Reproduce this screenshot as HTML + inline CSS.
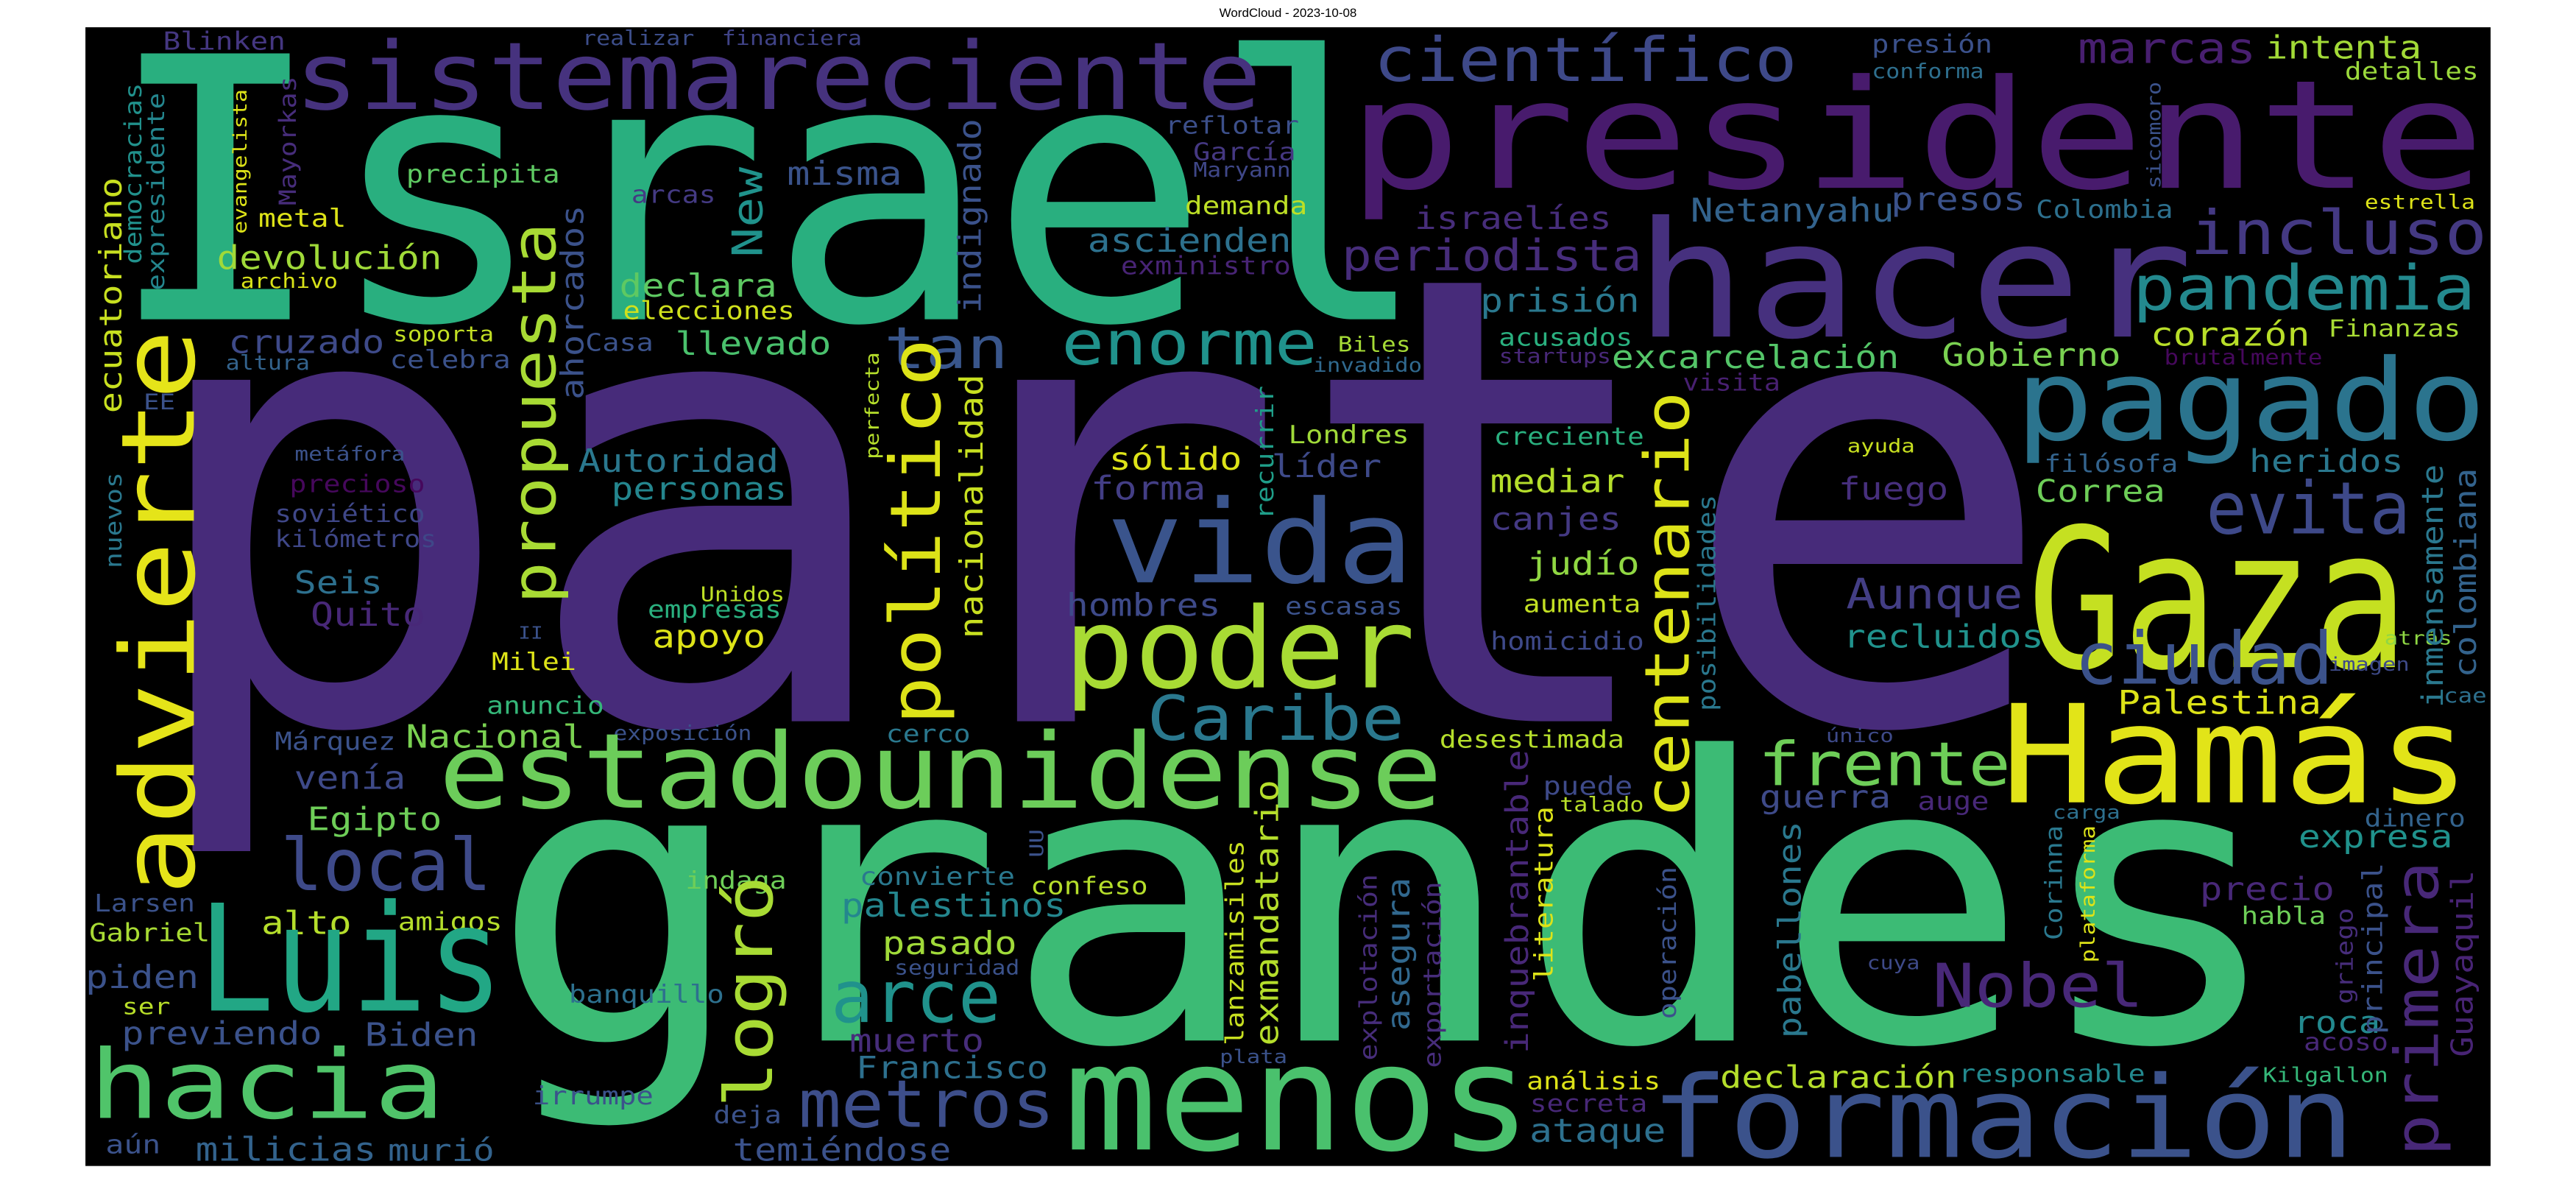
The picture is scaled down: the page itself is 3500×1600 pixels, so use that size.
<!DOCTYPE html>
<html><head><meta charset="utf-8"><title>WordCloud - 2023-10-08</title>
<style>
html,body{margin:0;padding:0;background:#fff;width:3500px;height:1600px;overflow:hidden}
#title{position:absolute;left:0;top:8px;width:3500px;text-align:center;font:17px "Liberation Sans",sans-serif;color:#000}
svg{position:absolute;left:0;top:0}
</style></head>
<body>
<div id="title">WordCloud - 2023-10-08</div>
<svg id="cloud" width="3500" height="1600" viewBox="0 0 1568 1568" preserveAspectRatio="none" xmlns="http://www.w3.org/2000/svg">
<rect x="52" y="36.3" width="1464" height="1515.7" fill="#000"/>
<g id="words"></g>
</svg>
<script>
// horizontal words: [word, left, baseline, right, fontSize(0=auto), color]
const hWords = [
["parte",100,960,1235,380,"#472b7a"],
["grandes",310,1385,1380,240,"#3cbb75"],
["Israel",75,425,860,222,"#29af7f"],
["presidente",825,250,1508,92,"#481b6d"],
["hacer",1000,448,1330,98,"#46307e"],
["sistemareciente",182,145,765,0,"#46327e"],
["Blinken",100,66,173,0,"#453781"],
["realizar",355,60,422,0,"#3d4e8a"],
["financiera",440,60,524,0,"#404387"],
["científico",838,108,1092,0,"#3e4989"],
["presión",1140,70,1212,0,"#3b518b"],
["conforma",1140,104,1207,0,"#2e6f8e"],
["marcas",1266,84,1372,0,"#481f70"],
["intenta",1380,78,1473,0,"#a2da37"],
["detalles",1428,106,1508,0,"#9bd93c"],
["precipita",248,243,340,0,"#5ec962"],
["arcas",385,270,435,0,"#443a83"],
["misma",480,246,548,0,"#3a538b"],
["reflotar",710,178,790,0,"#3c4f8a"],
["García",727,213,788,0,"#453882"],
["Maryann",727,235,785,0,"#3f4788"],
["demanda",722,285,795,0,"#bddf26"],
["Netanyahu",1030,295,1152,0,"#33638d"],
["presos",1152,280,1232,0,"#3b528b"],
["Colombia",1240,290,1322,0,"#2d708e"],
["estrella",1440,278,1506,0,"#dde318"],
["israelíes",862,305,980,0,"#472d7b"],
["incluso",1335,338,1512,0,"#443983"],
["metal",158,302,210,0,"#dde318"],
["devolución",133,358,268,0,"#a0da39"],
["archivo",147,383,205,0,"#d8e219"],
["ascienden",663,335,785,0,"#2d718e"],
["exministro",683,365,785,0,"#482475"],
["periodista",818,360,998,0,"#472d7b"],
["pandemia",1300,412,1505,0,"#23898e"],
["declara",378,395,472,0,"#5ec962"],
["elecciones",380,425,483,0,"#d0e11c"],
["prisión",902,415,997,0,"#2a788e"],
["Casa",357,467,397,0,"#3b528b"],
["llevado",412,472,505,0,"#4ac16d"],
["cruzado",140,470,233,0,"#3e4a89"],
["soporta",240,454,300,0,"#c2df23"],
["celebra",238,490,310,0,"#3b528b"],
["altura",138,492,188,0,"#33638d"],
["tan",540,490,612,0,"#39568c"],
["enorme",648,485,800,0,"#20928c"],
["Biles",815,468,858,0,"#a5db36"],
["invadido",800,495,865,0,"#30698e"],
["acusados",913,460,993,0,"#2ab07f"],
["startups",913,483,980,0,"#482878"],
["excarcelación",982,490,1155,0,"#54c568"],
["Gobierno",1183,487,1290,0,"#7ad151"],
["corazón",1310,460,1405,0,"#b8de29"],
["Finanzas",1418,448,1497,0,"#a8db34"],
["brutalmente",1318,485,1413,0,"#46085c"],
["visita",1025,520,1083,0,"#482071"],
["pagado",1230,585,1510,0,"#2b748e"],
["EE",88,545,106,0,"#3b528b"],
["Londres",785,590,857,0,"#a0da39"],
["creciente",910,592,1000,0,"#2ab07f"],
["ayuda",1125,602,1165,0,"#c8e020"],
["filósofa",1245,628,1325,0,"#33638d"],
["heridos",1370,628,1462,0,"#2a788e"],
["metáfora",180,613,246,0,"#3b528b"],
["Autoridad",353,628,473,0,"#2a788e"],
["sólido",676,625,755,0,"#dde318"],
["líder",775,635,840,0,"#3e4a89"],
["precioso",177,655,258,0,"#46085c"],
["personas",373,665,478,0,"#24868e"],
["forma",665,665,733,0,"#433e85"],
["mediar",908,655,988,0,"#b5de2b"],
["fuego",1120,665,1185,0,"#472f7d"],
["Correa",1240,668,1317,0,"#6ece58"],
["soviético",168,695,258,0,"#3f4788"],
["canjes",908,705,986,0,"#443983"],
["evita",1345,710,1465,44,"#3e4989"],
["kilómetros",168,728,265,0,"#3f4788"],
["vida",677,775,857,70,"#3a548c"],
["judío",930,765,997,0,"#90d743"],
["Gaza",1240,888,1460,118,"#c5e021"],
["Seis",180,790,232,0,"#2d708e"],
["Aunque",1125,810,1230,0,"#433e85"],
["Unidos",427,800,477,0,"#bddf26"],
["empresas",395,822,475,0,"#2ab07f"],
["hombres",650,820,742,0,"#3e4a89"],
["escasas",783,818,853,0,"#3b528b"],
["aumenta",928,815,998,0,"#c2df23"],
["Quito",190,833,258,0,"#482878"],
["II",316,850,330,0,"#3b528b"],
["apoyo",398,862,465,0,"#dde318"],
["recluidos",1123,862,1243,0,"#20928c"],
["homicidio",908,865,1000,0,"#3e4989"],
["poder",651,915,858,68,"#a8db34"],
["ciudad",1265,910,1418,44,"#3b528b"],
["Milei",300,892,350,0,"#dde318"],
["atrás",1452,858,1492,0,"#8fd744"],
["imagen",1418,893,1466,0,"#3e4a89"],
["Caribe",700,985,853,0,"#2a788e"],
["anuncio",297,950,367,0,"#35b779"],
["cae",1488,935,1513,0,"#2d708e"],
["Palestina",1290,950,1412,0,"#dde318"],
["Márquez",168,998,240,0,"#3b528b"],
["Nacional",248,995,355,0,"#7ad151"],
["exposición",374,985,457,0,"#3b528b"],
["cerco",540,988,590,0,"#2a788e"],
["único",1112,988,1152,0,"#3e4a89"],
["desestimada",877,995,988,0,"#b5de2b"],
["estadounidense",270,1075,875,0,"#6ccd5a"],
["frente",1072,1045,1222,0,"#6ece58"],
["Hamás",1222,1068,1500,83,"#e2e418"],
["venía",180,1050,246,0,"#3e4a89"],
["puede",940,1058,993,0,"#3e4a89"],
["talado",950,1080,1000,0,"#b8de29"],
["guerra",1072,1075,1150,0,"#3e4a89"],
["auge",1168,1078,1210,0,"#482878"],
["Egipto",188,1105,268,0,"#6ece58"],
["carga",1250,1090,1290,0,"#2d708e"],
["dinero",1440,1100,1500,0,"#33638d"],
["expresa",1400,1128,1492,0,"#20928c"],
["local",173,1185,297,44,"#3e4a89"],
["indaga",418,1183,478,0,"#6ece58"],
["convierte",524,1178,617,0,"#2a788e"],
["confeso",628,1190,698,0,"#b5de2b"],
["palestinos",513,1220,648,0,"#24868e"],
["Larsen",58,1213,118,0,"#3b528b"],
["precio",1340,1198,1420,0,"#482878"],
["Gabriel",55,1253,127,0,"#a8db34"],
["alto",160,1243,213,0,"#b5de2b"],
["amigos",243,1238,305,0,"#b5de2b"],
["habla",1365,1230,1415,0,"#6ece58"],
["pasado",538,1270,618,0,"#a0da39"],
["seguridad",545,1297,620,0,"#3b528b"],
["cuya",1137,1290,1168,0,"#3e4a89"],
["Luis",125,1345,302,90,"#22a785"],
["piden",53,1315,120,0,"#3b528b"],
["arce",508,1360,607,44,"#20928c"],
["Nobel",1178,1340,1303,0,"#482878"],
["banquillo",347,1335,440,0,"#2d708e"],
["ser",75,1350,103,0,"#b8de29"],
["roca",1397,1375,1448,0,"#23898e"],
["previendo",75,1390,195,0,"#3b528b"],
["Biden",223,1392,290,0,"#3b528b"],
["muerto",518,1400,598,0,"#472d7b"],
["acoso",1403,1398,1453,0,"#482878"],
["plata",743,1415,783,0,"#3b528b"],
["Francisco",522,1435,637,0,"#2d708e"],
["hacia",57,1488,268,58,"#50c46a"],
["análisis",930,1450,1010,0,"#dde318"],
["declaración",1048,1448,1190,0,"#b5de2b"],
["responsable",1193,1440,1305,0,"#23898e"],
["Kilgallon",1378,1440,1453,0,"#35b779"],
["irrumpe",325,1470,397,0,"#3b528b"],
["deja",435,1495,475,0,"#3b528b"],
["metros",488,1500,640,40,"#3d4e8a"],
["menos",652,1530,928,90,"#4ac16d"],
["formación",1008,1540,1430,0,"#3b528b"],
["secreta",932,1480,1002,0,"#482878"],
["ataque",932,1520,1013,0,"#2d708e"],
["aún",65,1535,97,0,"#3b528b"],
["milicias",120,1545,228,0,"#33638d"],
["murió",237,1545,300,0,"#33638d"],
["temiéndose",447,1545,578,0,"#3b528b"]
];
// vertical words (read bottom-to-top): [word, baselineX, bottomY, topY, fontSize(0=auto), color]
const vWords = [
["advierte",118,1185,445,0,"#e5e419"],
["ecuatoriano",74,548,238,0,"#c8e020"],
["democracias",86,350,112,0,"#21918c"],
["expresidente",100,385,125,0,"#24868e"],
["evangelista",150,310,120,0,"#dde318"],
["Mayorkas",180,272,103,0,"#472d7b"],
["nuevos",74,755,630,0,"#2a788e"],
["propuesta",338,800,300,0,"#a8db34"],
["ahorcados",355,530,275,0,"#3b528b"],
["New",464,340,225,0,"#20928c"],
["indignado",597,415,160,0,"#3b528b"],
["político",572,960,455,0,"#dde318"],
["perfecta",535,610,470,0,"#b5de2b"],
["nacionalidad",598,848,500,0,"#c8e020"],
["recurrir",775,690,515,0,"#1f9e89"],
["centenario",1028,1085,525,0,"#dde318"],
["posibilidades",1044,945,660,0,"#2a788e"],
["UU",635,1140,1105,0,"#3b528b"],
["lanzamisiles",757,1390,1120,0,"#c8e020"],
["exmandatario",778,1390,1040,0,"#b5de2b"],
["logró",470,1470,1170,0,"#a8db34"],
["explotación",838,1410,1165,0,"#472d7b"],
["asegura",858,1370,1170,0,"#31688e"],
["exportación",877,1420,1175,0,"#472d7b"],
["inquebrantable",930,1400,1000,0,"#482878"],
["literatura",945,1305,1075,0,"#dde318"],
["operación",1020,1355,1155,0,"#3b528b"],
["pabellones",1096,1380,1095,0,"#2a788e"],
["Corinna",1255,1250,1100,0,"#2a788e"],
["plataforma",1275,1280,1100,0,"#dde318"],
["griego",1432,1335,1210,0,"#472d7b"],
["principal",1450,1375,1150,0,"#3b528b"],
["primera",1484,1535,1150,0,"#482878"],
["Guayaquil",1505,1405,1160,0,"#482475"],
["inmensamente",1487,940,620,0,"#2a788e"],
["colombiana",1507,900,625,0,"#33638d"],
["sicomoro",1315,250,110,0,"#3b528b"]
];
const VS = 1568/717;
const g = document.getElementById('words');
const NS = 'http://www.w3.org/2000/svg';
function slug(s){return s.normalize('NFD').replace(/[\u0300-\u036f]/g,'').toLowerCase();}
function place(w, x, y, len, fs, color, vert){
  const n = w.length;
  const L = vert ? len/VS : len;
  if(!fs) fs = 1.467*L/n;
  const t = document.createElementNS(NS,'text');
  
  
  const x0 = vert ? x : x - 0.05*fs;
  const y0 = vert ? y + 0.05*fs*VS : y;
  let tr = 'translate(' + x0 + ',' + y0 + ') scale(1,' + VS + ')';
  if(vert) tr += ' rotate(-90)';
  t.setAttribute('transform', tr);
  t.setAttribute('font-size', fs.toFixed(2));
  t.setAttribute('fill', color);
  const tl = L + 0.1*fs;
  t.setAttribute('textLength', tl.toFixed(2));
  t.setAttribute('lengthAdjust', 'spacingAndGlyphs');
  t.setAttribute('font-family', '"DejaVu Sans Mono","Liberation Mono",monospace');
  t.textContent = w;
  g.appendChild(t);
}
hWords.forEach(r => place(r[0], r[1], r[2], r[3]-r[1], r[4], r[5], false));
vWords.forEach(r => place(r[0], r[1], r[2], r[2]-r[3], r[4], r[5], true));
</script>
</body></html>
